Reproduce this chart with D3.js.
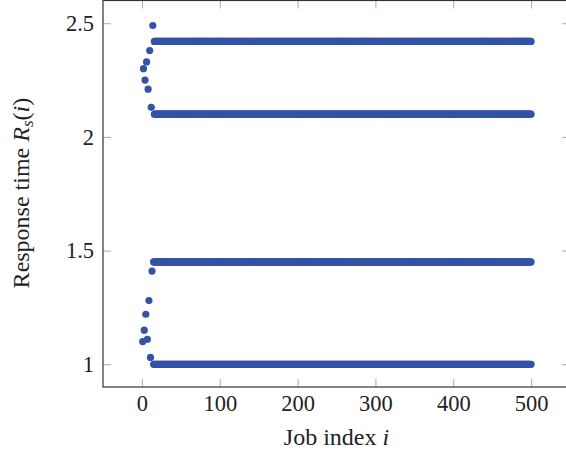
<!DOCTYPE html>
<html>
<head>
<meta charset='utf-8'>
<title>Response time</title>
<script src='https://d3js.org/d3.v7.min.js'></script>
<style>
  body { margin: 0; background: #fff; }
</style>
</head>
<body>
<div id='chart'></div>
<script>
// early jobs
const lowIdx  = [1, 3, 5, 7, 9, 11, 13];
const lowVal  = [1.10, 1.15, 1.22, 1.11, 1.28, 1.03, 1.41];
const highIdx = [2, 4, 6, 8, 10, 12, 14];
const highVal = [2.30, 2.25, 2.33, 2.21, 2.38, 2.13, 2.49];

// steady levels after the warm-up
const steadyLevels = [1.0, 1.45, 2.1, 2.42];
const steadyStart = 15;
const steadyEnd = 500;

const xTicks = [0, 100, 200, 300, 400, 500];
const yTicks = [1, 1.5, 2, 2.5];

const serif = 'Liberation Serif';

let W = 566, H = 460;
let margin = {top: 0.5, right: -4, bottom: 73, left: 103};
let w = W - margin.left - margin.right;
let h = H - margin.top - margin.bottom;

let svg = d3.select('#chart').append('svg')
    .attr('width', W).attr('height', H)
  .append('g')
    .attr('transform', `translate(${margin.left},${margin.top})`);

let x = d3.scaleLinear().domain([-50, 550]).range([0, w]);
let y = d3.scaleLinear().domain([0.9, 2.6]).range([h, 0]);

// build the points
let points = [];
lowIdx.forEach((d, i) => points.push([d, lowVal[i]]));
highIdx.forEach((d, i) => points.push([d, highVal[i]]));
steadyLevels.forEach(v => {
    d3.range(steadyStart + (v > 2 ? 1 : 0), steadyEnd + 1).forEach(i => points.push([i, v]));
});

let tickLen = 8;

// ticks (inside, all four sides)
let xAxisB = d3.axisBottom(x).tickValues(xTicks).tickSize(-tickLen).tickPadding(8).tickFormat(d3.format('d'));
let xAxisT = d3.axisTop(x).tickValues(xTicks).tickSize(-tickLen).tickFormat('');
let yAxisL = d3.axisLeft(y).tickValues(yTicks).tickSize(-tickLen).tickPadding(9).tickFormat(d => d);
let yAxisR = d3.axisRight(y).tickValues(yTicks).tickSize(-tickLen).tickFormat('');

svg.append('g').attr('transform', `translate(0,${h})`).call(xAxisB);
svg.append('g').call(xAxisT);
svg.append('g').call(yAxisL);
svg.append('g').attr('transform', `translate(${w},0)`).call(yAxisR);

svg.selectAll('.domain').remove();
svg.selectAll('.tick line').attr('stroke', '#aaa').attr('stroke-width', 1);
svg.selectAll('.tick text')
   .attr('font-family', serif)
   .attr('font-size', 22.5)
   .attr('fill', '#222');

// dots
svg.append('g').selectAll('circle')
   .data(points)
   .enter()
   .append('circle')
   .attr('cx', d => x(d[0]))
   .attr('cy', d => y(d[1]))
   .attr('r', 3.6)
   .attr('fill', '#3453a5');

// frame
svg.append('rect')
   .attr('x', 0).attr('y', 0)
   .attr('width', w).attr('height', h)
   .attr('fill', 'none')
   .attr('stroke', '#333')
   .attr('stroke-width', 1.2);

// x label
let xl = svg.append('text')
   .attr('x', x(250))
   .attr('y', h + 58)
   .attr('text-anchor', 'middle')
   .attr('font-family', serif)
   .attr('font-size', 24)
   .attr('fill', '#222');
xl.append('tspan').text('Job index ');
xl.append('tspan').attr('font-style', 'italic').text('i');

// y label
let yl = svg.append('text')
   .attr('transform', `translate(${-74},${y(1.753)}) rotate(-90)`)
   .attr('text-anchor', 'middle')
   .attr('font-family', serif)
   .attr('font-size', 24)
   .attr('fill', '#222');
yl.append('tspan').text('Response time ');
yl.append('tspan').attr('font-style', 'italic').text('R');
yl.append('tspan').attr('font-style', 'italic').attr('font-size', 17).attr('dy', 4).text('s');
yl.append('tspan').attr('dy', -4).text('(');
yl.append('tspan').attr('font-style', 'italic').text('i');
yl.append('tspan').text(')');
</script>
</body>
</html>
